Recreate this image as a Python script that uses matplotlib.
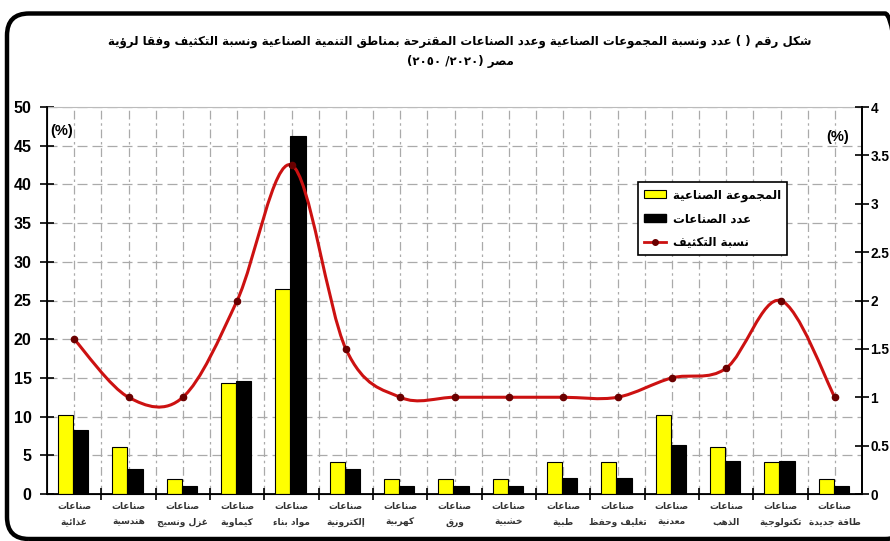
import re
import matplotlib
matplotlib.use("Agg")
import matplotlib.pyplot as plt
from matplotlib.path import Path
from matplotlib.patches import PathPatch, Patch, FancyBboxPatch
from matplotlib.lines import Line2D
from matplotlib.transforms import IdentityTransform

# data
categories = ["غذائية", "هندسية", "غزل ونسيج", "كيماوية", "مواد بناء", "إلكترونية",
              "كهربية", "ورق", "خشبية", "طبية", "تغليف وحفظ", "معدنية", "الذهب",
              "تكنولوجية", "طاقة جديدة"]
groups_pct = [10.2, 6.1, 2.0, 14.3, 26.5, 4.1, 2.0, 2.0, 2.0, 4.1, 4.1, 10.2, 6.1, 4.1, 2.0]
industries_pct = [8.3, 3.2, 1.0, 14.6, 46.3, 3.2, 1.0, 1.0, 1.0, 2.1, 2.1, 6.3, 4.2, 4.2, 1.0]
density_pct = [1.6, 1.0, 1.0, 2.0, 3.4, 1.5, 1.0, 1.0, 1.0, 1.0, 1.0, 1.2, 1.3, 2.0, 1.0]

title_1 = "شكل رقم ( ) عدد ونسبة المجموعات الصناعية وعدد الصناعات المقترحة بمناطق التنمية الصناعية ونسبة التكثيف وفقا لرؤية"
title_2 = "مصر (٢٠٢٠/ ٢٠٥٠)"
prefix = "صناعات"
legend_labels = ["المجموعة الصناعية", "عدد الصناعات", "نسبة التكثيف"]

# --- minimal arabic shaping (matplotlib has no bidi / joining) ---
DUAL = {'ئ': 0xFE89, 'ب': 0xFE8F, 'ت': 0xFE95, 'ث': 0xFE99, 'ج': 0xFE9D, 'ح': 0xFEA1,
        'خ': 0xFEA5, 'س': 0xFEB1, 'ش': 0xFEB5, 'ص': 0xFEB9, 'ض': 0xFEBD, 'ط': 0xFEC1,
        'ظ': 0xFEC5, 'ع': 0xFEC9, 'غ': 0xFECD, 'ف': 0xFED1, 'ق': 0xFED5, 'ك': 0xFED9,
        'ل': 0xFEDD, 'م': 0xFEE1, 'ن': 0xFEE5, 'ه': 0xFEE9, 'ي': 0xFEF1}
RIGHT = {'آ': 0xFE81, 'أ': 0xFE83, 'ؤ': 0xFE85, 'إ': 0xFE87, 'ا': 0xFE8D, 'ة': 0xFE93,
         'د': 0xFEA9, 'ذ': 0xFEAB, 'ر': 0xFEAD, 'ز': 0xFEAF, 'و': 0xFEED, 'ى': 0xFEEF}
LAMALEF = {'آ': 0xFEF5, 'أ': 0xFEF7, 'إ': 0xFEF9, 'ا': 0xFEFB}


def shape(s):
    out = []
    i = 0
    while i < len(s):
        c = s[i]
        prev = s[i - 1] if i > 0 else ''
        nxt = s[i + 1] if i + 1 < len(s) else ''
        left = prev in DUAL
        if c == 'ل' and nxt in LAMALEF:
            out.append(chr(LAMALEF[nxt] + left))
            i += 2
            continue
        if c in DUAL:
            right = nxt in DUAL or nxt in RIGHT
            out.append(chr(DUAL[c] + (3 if left and right else 2 if right else 1 if left else 0)))
        elif c in RIGHT:
            out.append(chr(RIGHT[c] + left))
        elif c == 'ء':
            out.append(chr(0xFE80))
        else:
            out.append(c)
        i += 1
    return ''.join(out)


def ar(s):
    runs = re.findall(r'[0-9\u0660-\u0669]+|[^0-9\u0660-\u0669]', shape(s))
    return ''.join(reversed(runs)).translate(str.maketrans('()', ')('))


AR_FONT = 'DejaVu Sans'
NUM_FONT = 'Liberation Sans'

fig = plt.figure(figsize=(8.9, 5.41), dpi=100)
ax = fig.add_axes([47 / 890, 1 - 494 / 541, 815 / 890, 387 / 541])
ax2 = ax.twinx()

x = list(range(len(categories)))
w = 0.28
ax.bar([i - w / 2 - 0.02 for i in x], groups_pct, w, color='#ffff00', edgecolor='black', lw=0.8, zorder=3)
ax.bar([i + w / 2 - 0.02 for i in x], industries_pct, w, color='black', edgecolor='black', lw=0.8, zorder=3)

ax.set_xlim(-0.5, len(categories) - 0.5)
ax.set_ylim(0, 50)
ax.set_yticks(range(0, 51, 5))
ax.set_xticks(x)
ax.set_xticklabels([ar(prefix) + '\n' + ar(c) for c in categories],
                   fontfamily=AR_FONT, fontsize=6.5, fontweight='bold', color='#333333',
                   linespacing=1.9)
ax.set_xticks([i + 0.5 for i in x[:-1]], minor=True)
ax.tick_params(axis='x', which='major', length=0, pad=6)
ax.tick_params(axis='x', which='minor', direction='inout', length=9, width=1.2)
ax.tick_params(axis='y', direction='inout', length=10, width=1.2, pad=6)
for lab in ax.get_yticklabels():
    lab.set_fontfamily(NUM_FONT)
    lab.set_fontweight('bold')
    lab.set_fontsize(11.5)

ax.grid(axis='y', color='#aaaaaa', ls=(0, (8, 4)), lw=0.9, zorder=0)
ax.grid(axis='x', which='both', color='#aaaaaa', ls=(0, (7, 3, 2, 3)), lw=0.9, zorder=0)
for side in ['left', 'right', 'bottom']:
    ax.spines[side].set_linewidth(1.3)
ax.spines['top'].set_color('#bbbbbb')
ax2.spines['top'].set_visible(False)

# smoothed line (cubic bezier through each point, excel style)
n = len(density_pct)
pts = list(zip(x, density_pct))
verts = [pts[0]]
codes = [Path.MOVETO]
for i in range(n - 1):
    p0 = pts[i - 1] if i > 0 else pts[i]
    p1, p2 = pts[i], pts[i + 1]
    p3 = pts[i + 2] if i + 2 < n else pts[i + 1]
    c1 = (p1[0] + (p2[0] - p0[0]) / 6, p1[1] + (p2[1] - p0[1]) / 6)
    c2 = (p2[0] - (p3[0] - p1[0]) / 6, p2[1] - (p3[1] - p1[1]) / 6)
    verts += [c1, c2, p2]
    codes += [Path.CURVE4] * 3
ax2.add_patch(PathPatch(Path(verts, codes), fill=False, edgecolor='#cc1111', lw=2.2, zorder=4))
ax2.plot(x, density_pct, ls='none', marker='o', ms=4.5, color='#6a0000', zorder=5)

ax2.set_ylim(0, 4)
ax2.set_yticks([0, 0.5, 1, 1.5, 2, 2.5, 3, 3.5, 4])
ax2.set_yticklabels(['0', '0.5', '1', '1.5', '2', '2.5', '3', '3.5', '4'])
ax2.tick_params(axis='y', direction='inout', length=10, width=1.2, pad=1)
for lab in ax2.get_yticklabels():
    lab.set_fontfamily(NUM_FONT)
    lab.set_fontweight('bold')
    lab.set_fontsize(9.8)
ax2.spines['right'].set_linewidth(1.3)

ax.text(50 / 890, 1 - 131 / 541, '(%)', transform=fig.transFigure, fontfamily=NUM_FONT,
        fontweight='bold', fontsize=10.5, va='center', ha='left')
ax.text(826 / 890, 1 - 137 / 541, '(%)', transform=fig.transFigure, fontfamily=NUM_FONT,
        fontweight='bold', fontsize=10.5, va='center', ha='left')

# titles
fig.text(460 / 890, 1 - 41 / 541, ar(title_1), ha='center', va='center',
         fontfamily=AR_FONT, fontweight='bold', fontsize=8.5)
fig.text(460 / 890, 1 - 62 / 541, ar(title_2), ha='center', va='center',
         fontfamily=AR_FONT, fontweight='bold', fontsize=8.5)

handles = [Patch(facecolor='#ffff00', edgecolor='black', lw=0.8),
           Patch(facecolor='black', edgecolor='black'),
           Line2D([], [], color='#cc1111', lw=2, marker='o', ms=4, mfc='#6a0000', mec='#6a0000')]
leg = fig.legend(handles, [ar(t) for t in legend_labels], loc='upper left',
                 bbox_to_anchor=(632 / 890, 1 - 176 / 541), fancybox=False, framealpha=1,
                 edgecolor='black', prop={'family': AR_FONT, 'weight': 'bold', 'size': 8.5},
                 handlelength=1.8, handleheight=0.7, labelspacing=0.9, borderpad=0.55,
                 handletextpad=0.6)
leg.get_frame().set_linewidth(1.2)

# rounded outer frame, partly cut by the picture edge
fig.patches.append(FancyBboxPatch((7, 2), 900, 525.5, boxstyle='round,pad=0,rounding_size=22',
                                  transform=IdentityTransform(), fill=False,
                                  edgecolor='black', lw=3.2))

fig.savefig('out.png', dpi=100)
